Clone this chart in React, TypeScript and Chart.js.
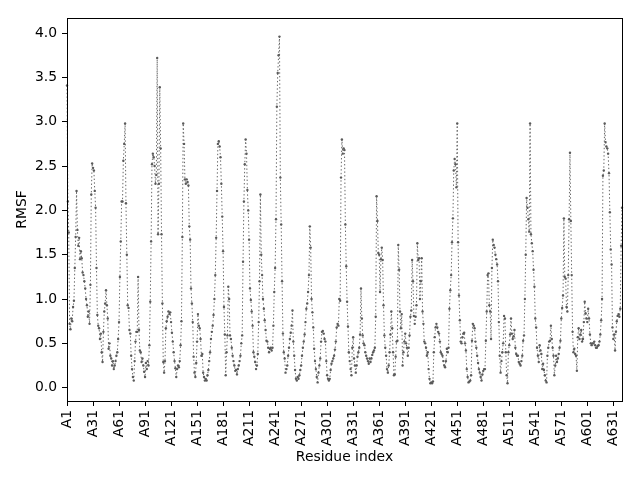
import React, { useEffect, useRef } from 'react';
import Chart from 'chart.js/auto';

// RMSF per residue, A1..A641
const rmsf = [
  3.41, 2.1, 1.75, 0.72, 0.66, 0.78, 0.75, 0.91, 0.98, 1.35,
  1.7, 2.22, 1.78, 1.6, 1.69, 1.45, 1.54, 1.46, 1.3, 1.27,
  1.2, 1.12, 1.0, 0.93, 0.8, 0.86, 0.72, 1.16, 2.18, 2.53,
  2.48, 2.45, 2.22, 2.03, 1.35, 0.82, 0.7, 0.67, 0.55, 0.61,
  0.4, 0.29, 0.63, 0.86, 0.95, 1.1, 0.93, 0.78, 0.44, 0.5,
  0.36, 0.33, 0.25, 0.3, 0.21, 0.25, 0.3, 0.36, 0.4, 0.55,
  0.74, 1.25, 1.65, 2.1, 2.1, 2.56, 2.75, 2.98, 2.08, 1.5,
  0.93, 0.9, 0.65, 0.61, 0.36, 0.21, 0.12, 0.08, 0.3, 0.52,
  0.63, 0.63, 1.25, 0.65, 0.42, 0.4, 0.29, 0.33, 0.25, 0.18,
  0.12, 0.28, 0.21, 0.3, 0.25, 0.48, 0.97, 1.65, 2.52, 2.64,
  2.6, 2.5, 2.3, 2.4, 3.72, 1.73, 2.3, 3.39, 2.7, 1.73,
  0.95, 0.29, 0.17, 0.3, 0.67, 0.75, 0.8, 0.86, 0.83, 0.85,
  0.74, 0.62, 0.52, 0.4, 0.3, 0.22, 0.12, 0.21, 0.25, 0.23,
  0.3, 0.48, 0.75, 1.7, 2.98, 2.75, 2.35, 2.3, 2.35, 2.32,
  2.28, 1.82, 1.67, 1.12, 0.95, 0.74, 0.35, 0.17, 0.12, 0.28,
  0.52, 0.83, 0.7, 0.67, 0.55, 0.36, 0.38, 0.17, 0.12, 0.08,
  0.1, 0.08, 0.14, 0.2, 0.3, 0.4, 0.55, 0.63, 0.7, 0.82,
  1.0, 1.27, 1.69, 2.22, 2.75, 2.78, 2.72, 2.6, 2.3, 1.93,
  1.54, 0.91, 0.6, 0.14, 0.4, 0.59, 1.14, 1.0, 0.59, 0.55,
  0.45, 0.36, 0.3, 0.25, 0.19, 0.2, 0.15, 0.21, 0.25, 0.3,
  0.36, 0.5, 0.59, 1.42, 2.1, 2.52, 2.8, 2.64, 2.23, 2.0,
  1.67, 1.12, 0.99, 0.86, 0.7, 0.4, 0.35, 0.29, 0.21, 0.25,
  0.38, 0.74, 1.2, 2.18, 1.5, 1.27, 1.0, 0.89, 0.76, 0.65,
  0.53, 0.52, 0.45, 0.4, 0.44, 0.45, 0.42, 0.45, 0.7, 1.08,
  1.35, 1.9, 3.17, 3.55, 3.75, 3.96, 2.37, 1.84, 1.2, 0.61,
  0.4, 0.33, 0.17, 0.21, 0.25, 0.36, 0.45, 0.55, 0.62, 0.7,
  0.87, 0.52, 0.36, 0.2, 0.1, 0.08, 0.12, 0.1, 0.14, 0.2,
  0.25, 0.36, 0.45, 0.52, 0.6, 0.74, 0.89, 0.95, 1.08, 1.27,
  1.82, 1.58, 1.0, 0.85, 0.68, 0.44, 0.3, 0.21, 0.12, 0.06,
  0.17, 0.25, 0.33, 0.52, 0.63, 0.64, 0.61, 0.55, 0.52, 0.3,
  0.14, 0.1, 0.08, 0.1, 0.2, 0.27, 0.3, 0.33, 0.36, 0.43,
  0.52, 0.68, 0.72, 0.7, 1.0, 0.98, 2.37, 2.8, 2.64, 2.7,
  2.68, 1.84, 1.37, 0.97, 0.69, 0.4, 0.3, 0.21, 0.14, 0.45,
  0.57, 0.33, 0.25, 0.17, 0.25, 0.35, 0.4, 0.45, 0.6, 1.12,
  0.78, 0.59, 0.5, 0.48, 0.4, 0.36, 0.33, 0.3, 0.27, 0.33,
  0.29, 0.33, 0.37, 0.4, 0.42, 0.45, 0.8, 2.16, 1.88, 1.52,
  1.5, 1.08, 1.45, 1.58, 1.44, 0.93, 0.59, 0.45, 0.36, 0.21,
  0.17, 0.25, 0.4, 0.6, 0.86, 0.67, 0.4, 0.14, 0.15, 0.35,
  0.52, 0.53, 1.61, 1.33, 0.86, 0.67, 0.83, 0.25, 0.4, 0.52,
  0.61, 0.5, 0.45, 0.36, 0.45, 0.59, 0.8, 0.87, 1.44, 1.2,
  0.81, 0.72, 0.8, 0.93, 1.63, 1.44, 1.46, 1.0, 1.2, 1.46,
  0.86, 0.72, 0.52, 0.5, 0.45, 0.36, 0.4, 0.21, 0.1, 0.05,
  0.06, 0.05, 0.07, 0.4, 0.57, 0.68, 0.72, 0.68, 0.63, 0.61,
  0.52, 0.4, 0.38, 0.36, 0.3, 0.25, 0.23, 0.3, 0.44, 0.4,
  0.45, 0.89, 1.1, 1.27, 1.64, 1.91, 2.45, 2.58, 2.52, 2.26,
  2.98, 1.64, 1.04, 0.76, 0.52, 0.5, 0.57, 0.61, 0.62, 0.5,
  0.42, 0.21, 0.12, 0.06, 0.07, 0.08, 0.14, 0.53, 0.72, 0.7,
  0.67, 0.52, 0.45, 0.36, 0.28, 0.21, 0.17, 0.12, 0.08, 0.15,
  0.19, 0.21, 0.21, 0.53, 0.86, 1.27, 1.29, 0.93, 0.86, 0.55,
  1.35, 1.67, 1.61, 1.58, 1.5, 1.45, 1.39, 1.2, 0.74, 0.36,
  0.17, 0.3, 0.4, 0.5, 0.81, 0.78, 0.4, 0.14, 0.05, 0.4,
  0.48, 0.6, 0.78, 0.61, 0.55, 0.58, 0.65, 0.45, 0.38, 0.36,
  0.36, 0.29, 0.27, 0.25, 0.3, 0.36, 0.53, 0.59, 1.0, 1.5,
  2.14, 2.03, 1.9, 1.76, 2.98, 1.73, 1.63, 1.54, 1.33, 1.14,
  0.78, 0.68, 0.45, 0.36, 0.29, 0.48, 0.42, 0.38, 0.21, 0.27,
  0.2, 0.14, 0.08, 0.06, 0.36, 0.45, 0.52, 0.53, 0.7, 0.55,
  0.45, 0.36, 0.14, 0.25, 0.36, 0.29, 0.33, 0.38, 0.45, 0.53,
  0.78, 0.9, 1.04, 1.91, 1.25, 1.23, 0.91, 0.86, 1.27, 1.9,
  2.65, 1.88, 1.27, 0.63, 0.4, 0.44, 0.38, 0.36, 0.19, 0.57,
  0.67, 0.55, 0.6, 0.65, 0.52, 0.55, 0.74, 0.97, 0.84, 0.78,
  0.74, 0.89, 0.78, 0.6, 0.5, 0.48, 0.5, 0.5, 0.52, 0.48,
  0.45, 0.45, 0.47, 0.48, 0.52, 0.6, 0.76, 1.0, 2.39, 2.45,
  2.98, 2.77, 2.72, 2.7, 2.64, 2.42, 1.98, 1.56, 1.39, 0.68,
  0.55, 0.6, 0.42, 0.63, 0.75, 0.81, 0.83, 0.8, 0.89, 1.6,
  2.03,
];

const residues = rmsf.map((_, i) => `A${i + 1}`);
const xTickStep = 30; // label every 30th residue: A1, A31, ... A631
const yTicks = [0.0, 0.5, 1.0, 1.5, 2.0, 2.5, 3.0, 3.5, 4.0];

const FONT = 'DejaVu Sans';

// top/right spines like matplotlib
const framePlugin = {
  id: 'frame',
  afterDraw(chart: Chart) {
    const { ctx, chartArea } = chart;
    ctx.save();
    ctx.strokeStyle = '#000';
    ctx.lineWidth = 1;
    ctx.strokeRect(
      Math.round(chartArea.left) + 0.5,
      Math.round(chartArea.top) + 0.5,
      Math.round(chartArea.right - chartArea.left),
      Math.round(chartArea.bottom - chartArea.top)
    );
    ctx.restore();
  },
};

const RmsfChart: React.FC = () => {
  const canvasRef = useRef<HTMLCanvasElement | null>(null);
  const chartRef = useRef<Chart | null>(null);

  useEffect(() => {
    const ctx = canvasRef.current?.getContext('2d');
    if (ctx) {
      chartRef.current = new Chart(ctx, {
        type: 'line',
        data: {
          labels: residues,
          datasets: [
            {
              label: 'RMSF',
              data: rmsf,
              borderColor: '#666666',
              backgroundColor: '#666666',
              borderWidth: 1,
              borderDash: [1.4, 2.3],
              pointRadius: 1.2,
              pointBorderWidth: 0,
              pointBackgroundColor: '#5a5a5a',
              tension: 0,
              fill: false,
            },
          ],
        },
        options: {
          responsive: false,
          animation: false,
          events: [],
          layout: { padding: { top: 18, right: 18, left: 0, bottom: 0 } },
          plugins: {
            legend: { display: false },
            tooltip: { enabled: false },
          },
          scales: {
            x: {
              type: 'category',
              offset: false,
              grid: { drawOnChartArea: false, drawTicks: true, tickLength: 5, color: '#000' },
              border: { display: false },
              afterBuildTicks: (scale: any) => {
                scale.ticks = scale.ticks.filter((t: any) => t.value % xTickStep === 0);
              },
              afterFit: (scale: any) => {
                scale.height = 79;
              },
              ticks: {
                autoSkip: false,
                minRotation: 90,
                maxRotation: 90,
                padding: 4,
                color: '#000',
                font: { family: FONT, size: 13.9 },
              },
              title: {
                display: true,
                text: 'Residue index',
                color: '#000',
                font: { family: FONT, size: 13.9 },
                padding: { top: 14, bottom: 14 },
              },
            },
            y: {
              type: 'linear',
              min: -0.15,
              max: 4.17,
              grid: { drawOnChartArea: false, drawTicks: true, tickLength: 5, color: '#000' },
              border: { display: false },
              afterBuildTicks: (scale: any) => {
                scale.ticks = yTicks.map((v) => ({ value: v }));
              },
              afterFit: (scale: any) => {
                scale.width = 67;
              },
              ticks: {
                padding: 5,
                color: '#000',
                font: { family: FONT, size: 13.9 },
                callback: (v: any) => Number(v).toFixed(1),
              },
              title: {
                display: true,
                text: 'RMSF',
                color: '#000',
                font: { family: FONT, size: 13.9 },
                padding: { top: 14, bottom: 0 },
              },
            },
          },
        },
        plugins: [framePlugin],
      });
    }

    return () => {
      if (chartRef.current) chartRef.current.destroy();
    };
  }, []);

  return (
    <div style={{ position: 'absolute', left: 0, top: 0, width: 640, height: 480, background: '#fff' }}>
      <canvas ref={canvasRef} width={640} height={480}></canvas>
    </div>
  );
};

export default function App() {
  return <RmsfChart />;
}
